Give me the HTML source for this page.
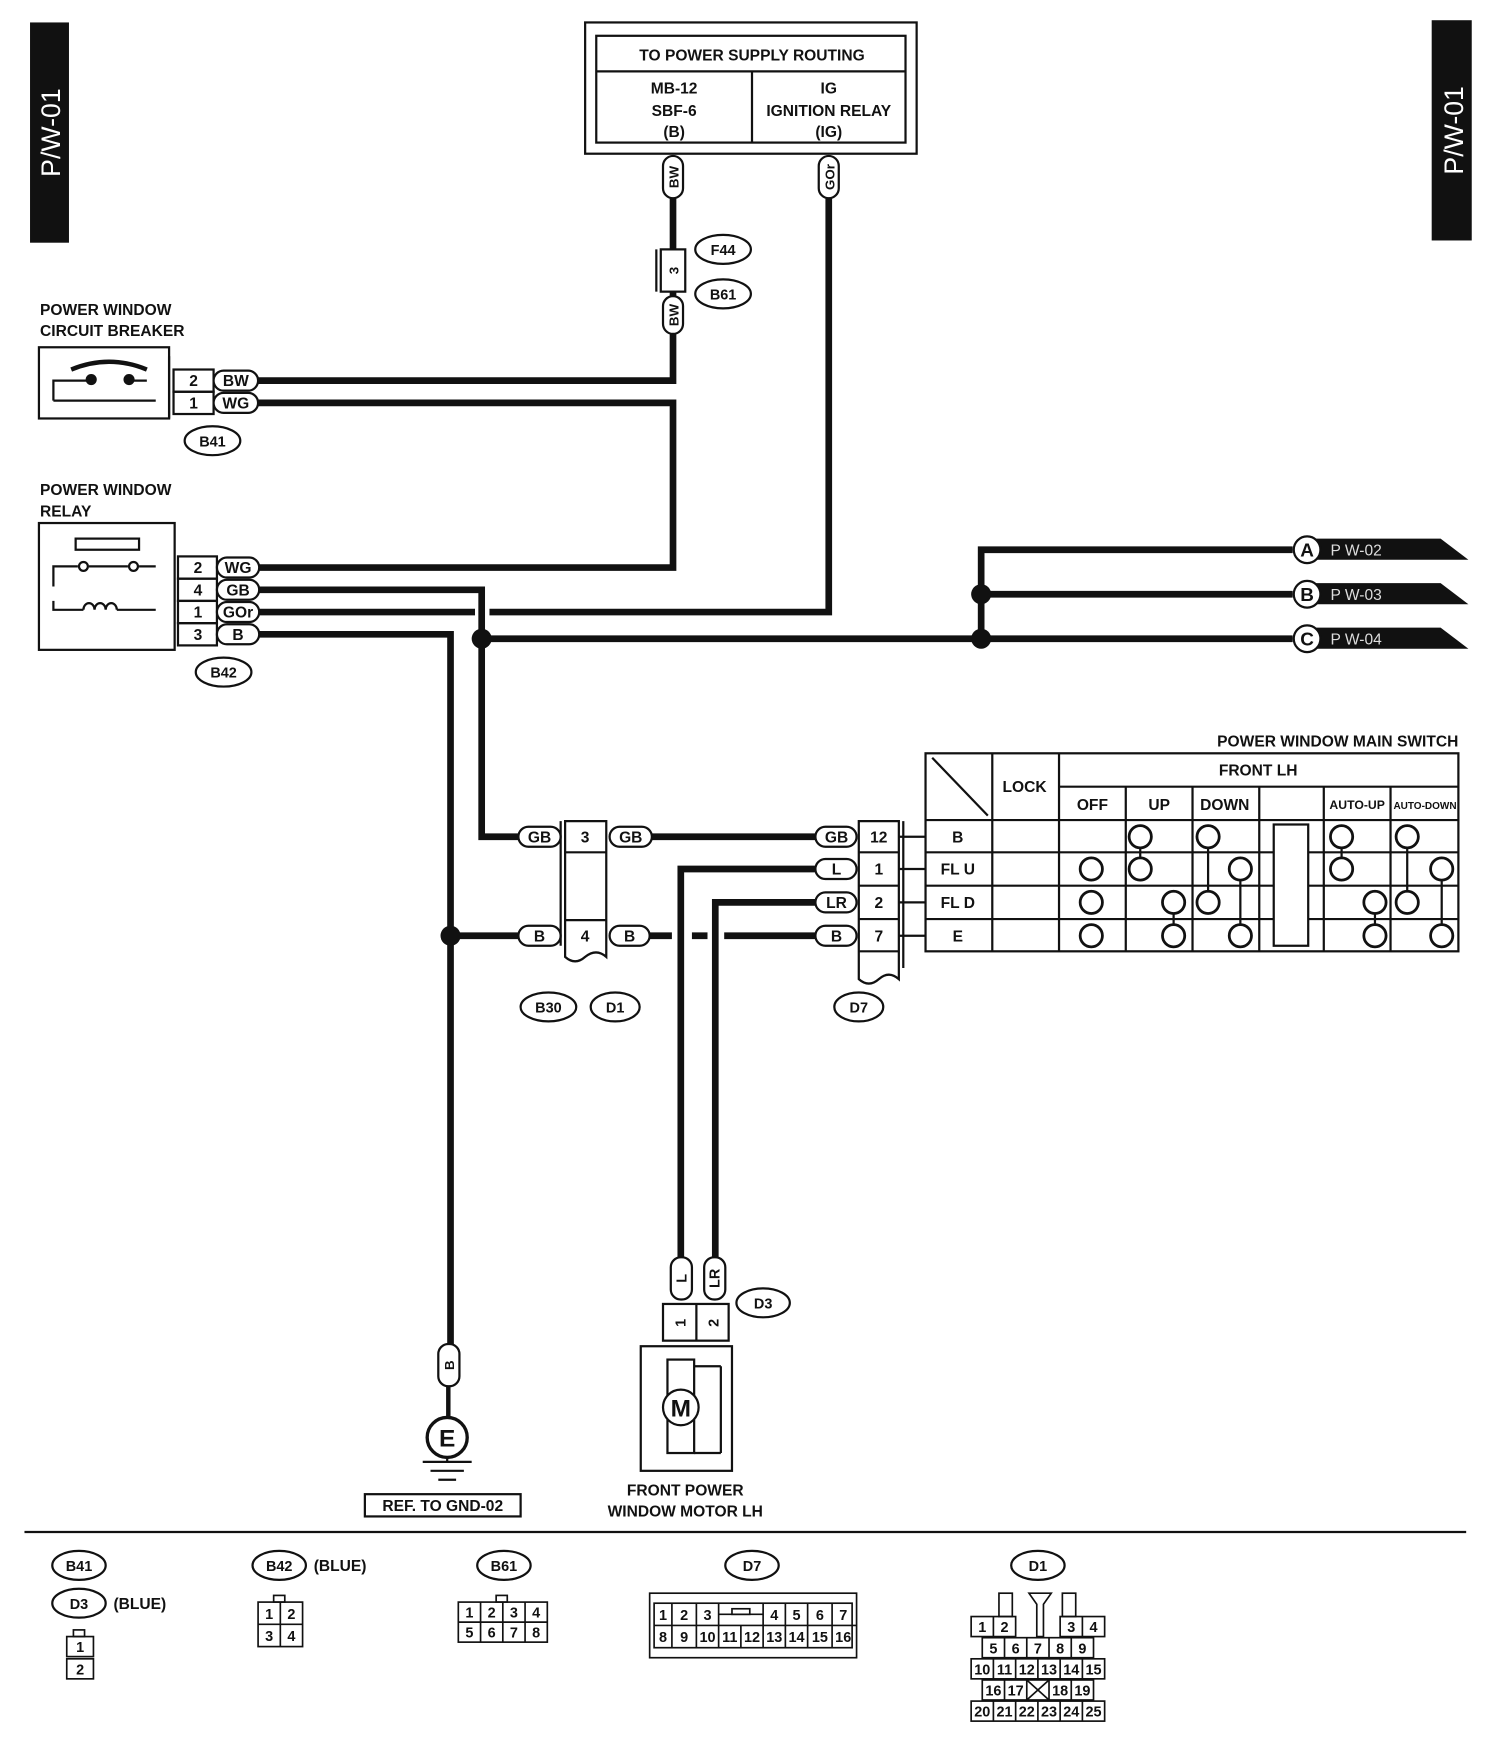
<!DOCTYPE html>
<html><head><meta charset="utf-8"><style>
html,body{margin:0;padding:0;background:#fff;}
svg{display:block;}
text{font-family:"Liberation Sans",Arial,sans-serif;font-weight:bold;fill:#111;}
</style></head><body>
<svg width="1504" height="1738" viewBox="0 0 1352 1562" xmlns="http://www.w3.org/2000/svg">
<rect width="1352" height="1562" fill="#fff"/>
<!-- side tabs -->
<rect x="27" y="20" width="35" height="198" fill="#111"/>
<text transform="translate(54,119) rotate(-90)" text-anchor="middle" font-size="24" style="fill:#fff;font-weight:normal">P/W-01</text>
<rect x="1287" y="18" width="36" height="198" fill="#111"/>
<text transform="translate(1315,117) rotate(-90)" text-anchor="middle" font-size="24" style="fill:#fff;font-weight:normal">P/W-01</text>

<!-- top box -->
<g fill="none" stroke="#111" stroke-width="2">
<rect x="526" y="20" width="298" height="118"/>
<rect x="536" y="32" width="278" height="96"/>
<line x1="536" y1="64" x2="814" y2="64"/>
<line x1="676" y1="64" x2="676" y2="128"/>
</g>
<g font-size="14" text-anchor="middle">
<text x="676" y="54">TO POWER SUPPLY ROUTING</text>
<text x="606" y="84">MB-12</text><text x="606" y="104">SBF-6</text><text x="606" y="123">(B)</text>
<text x="745" y="84">IG</text><text x="745" y="104">IGNITION RELAY</text><text x="745" y="123">(IG)</text>
</g>

<!-- wires -->
<g fill="none" stroke="#111" stroke-width="6" stroke-linejoin="miter">
<polyline points="605,178 605,224"/>
<polyline points="605,262 605,268"/>
<polyline points="605,300 605,342 232,342"/>
<polyline points="232,362 605,362 605,510 232,510"/>
<polyline points="745,178 745,550 440,550"/>
<polyline points="427,550 232,550"/>
<polyline points="232,530 433,530 433,752 466,752"/>
<polyline points="586,752 733,752"/>
<polyline points="232,570 405,570 405,1208"/>
<polyline points="433,574 1162,574"/>
<polyline points="882,574 882,494 1162,494"/>
<polyline points="882,534 1162,534"/>
<polyline points="405,841 466,841"/>
<polyline points="584,841 604,841"/>
<polyline points="622,841 636,841"/>
<polyline points="651,841 733,841"/>
<polyline points="733,781 612,781 612,1130"/>
<polyline points="733,811 643,811 643,1130"/>
</g>
<g stroke="#111" stroke-width="2">
<line x1="808" y1="752" x2="832" y2="752"/>
<line x1="808" y1="781" x2="832" y2="781"/>
<line x1="808" y1="811" x2="832" y2="811"/>
<line x1="808" y1="841" x2="832" y2="841"/>
</g>
<g fill="#111">
<circle cx="433" cy="574" r="9"/><circle cx="882" cy="574" r="9"/><circle cx="882" cy="534" r="9"/><circle cx="405" cy="841" r="9"/>
</g>

<!-- vertical pills top -->
<g fill="#fff" stroke="#111" stroke-width="2">
<rect x="596" y="140" width="18" height="38" rx="9"/>
<rect x="736" y="140" width="18" height="38" rx="9"/>
<rect x="596" y="266" width="18" height="34" rx="9"/>
<rect x="594" y="224" width="22" height="38"/>
<line x1="590" y1="224" x2="590" y2="262"/>
</g>
<g font-size="12" text-anchor="middle">
<text transform="translate(610,159) rotate(-90)">BW</text>
<text transform="translate(750,159) rotate(-90)">GOr</text>
<text transform="translate(610,283) rotate(-90)">BW</text>
<text transform="translate(610,243) rotate(-90)">3</text>
</g>
<g fill="#fff" stroke="#111" stroke-width="2">
<ellipse cx="650" cy="224" rx="25" ry="13"/>
<ellipse cx="650" cy="264" rx="25" ry="13"/>
</g>
<g font-size="13" text-anchor="middle"><text x="650" y="229">F44</text><text x="650" y="269">B61</text></g>

<!-- circuit breaker -->
<g font-size="14"><text x="36" y="283">POWER WINDOW</text><text x="36" y="302">CIRCUIT BREAKER</text>
<text x="36" y="445">POWER WINDOW</text><text x="36" y="464">RELAY</text></g>
<g fill="none" stroke="#111" stroke-width="2">
<rect x="35" y="312" width="117" height="64"/>
<polyline points="48,360 48,342 82,342"/>
<polyline points="116,342 132,342"/>
<path d="M64,332 Q98,318 132,332" stroke-width="4"/>
<line x1="48" y1="360" x2="140" y2="360"/>
<rect x="156" y="332" width="36" height="20"/><rect x="156" y="352" width="36" height="20"/>
<line x1="152" y1="320" x2="152" y2="376"/>
</g>
<circle cx="82" cy="341" r="5" fill="#111"/><circle cx="116" cy="341" r="5" fill="#111"/>
<g fill="#fff" stroke="#111" stroke-width="2">
<rect x="192" y="333" width="40" height="18" rx="9"/><rect x="192" y="353" width="40" height="18" rx="9"/>
<ellipse cx="191" cy="396" rx="25" ry="13"/>
</g>
<g font-size="14" text-anchor="middle">
<text x="174" y="347">2</text><text x="174" y="367">1</text>
<text x="212" y="347">BW</text><text x="212" y="367">WG</text>
<text x="191" y="401" font-size="13">B41</text>
</g>

<!-- relay -->
<g fill="none" stroke="#111" stroke-width="2">
<rect x="35" y="470" width="122" height="114"/>
<rect x="68" y="484" width="57" height="10"/>
<polyline points="70,509 48,509 48,527"/>
<line x1="80" y1="509" x2="115" y2="509"/>
<polyline points="125,509 140,509"/>
<circle cx="75" cy="509" r="4" fill="#fff"/><circle cx="120" cy="509" r="4" fill="#fff"/>
<polyline points="48,540 48,548 75,548"/>
<path d="M75,548 a5,6 0 1 1 10,0 a5,6 0 1 1 10,0 a5,6 0 1 1 10,0"/>
<polyline points="105,548 140,548"/>
<rect x="160" y="500" width="35" height="20"/><rect x="160" y="520" width="35" height="20"/>
<rect x="160" y="540" width="35" height="20"/><rect x="160" y="560" width="35" height="20"/>
</g>
<g fill="#fff" stroke="#111" stroke-width="2">
<rect x="195" y="501" width="38" height="18" rx="9"/><rect x="195" y="521" width="38" height="18" rx="9"/>
<rect x="195" y="541" width="38" height="18" rx="9"/><rect x="195" y="561" width="38" height="18" rx="9"/>
<ellipse cx="201" cy="604" rx="25" ry="13"/>
</g>
<g font-size="14" text-anchor="middle">
<text x="178" y="515">2</text><text x="178" y="535">4</text><text x="178" y="555">1</text><text x="178" y="575">3</text>
<text x="214" y="515">WG</text><text x="214" y="535">GB</text><text x="214" y="555">GOr</text><text x="214" y="575">B</text>
<text x="201" y="609" font-size="13">B42</text>
</g>

<!-- A B C -->
<g fill="#111">
<polygon points="1180,484 1295,484 1320,503 1180,503"/>
<polygon points="1180,524 1295,524 1320,543 1180,543"/>
<polygon points="1180,564 1295,564 1320,583 1180,583"/>
</g>
<g fill="#fff" stroke="#111" stroke-width="2">
<circle cx="1175" cy="494" r="12"/><circle cx="1175" cy="534" r="12"/><circle cx="1175" cy="574" r="12"/>
</g>
<g font-size="17" text-anchor="middle"><text x="1175" y="500">A</text><text x="1175" y="540">B</text><text x="1175" y="580">C</text></g>
<g font-size="14" style="fill:#ddd;font-weight:normal"><text x="1196" y="499" style="fill:#ddd;font-weight:normal">P W-02</text><text x="1196" y="539" style="fill:#ddd;font-weight:normal">P W-03</text><text x="1196" y="579" style="fill:#ddd;font-weight:normal">P W-04</text></g>

<!-- B30/D1 connector -->
<g fill="none" stroke="#111" stroke-width="2">
<path d="M508,738 H545 V860 Q536,852 526,860 Q517,868 508,860 Z" fill="#fff"/>
<line x1="508" y1="766" x2="545" y2="766"/><line x1="508" y1="827" x2="545" y2="827"/>
<line x1="504" y1="738" x2="504" y2="850"/>
<path d="M772,738 H808 V880 Q799,872 790,880 Q781,888 772,880 Z" fill="#fff"/>
<line x1="772" y1="766" x2="808" y2="766"/><line x1="772" y1="796" x2="808" y2="796"/>
<line x1="772" y1="826" x2="808" y2="826"/><line x1="772" y1="855" x2="808" y2="855"/>
<line x1="812" y1="738" x2="812" y2="870"/>
</g>
<g fill="#fff" stroke="#111" stroke-width="2">
<rect x="466" y="743" width="38" height="18" rx="9"/><rect x="548" y="743" width="38" height="18" rx="9"/>
<rect x="466" y="832" width="38" height="18" rx="9"/><rect x="548" y="832" width="36" height="18" rx="9"/>
<rect x="733" y="743" width="37" height="18" rx="9"/><rect x="733" y="772" width="37" height="18" rx="9"/>
<rect x="733" y="802" width="37" height="18" rx="9"/><rect x="733" y="832" width="37" height="18" rx="9"/>
<ellipse cx="493" cy="905" rx="25" ry="13"/><ellipse cx="553" cy="905" rx="22" ry="13"/><ellipse cx="772" cy="905" rx="22" ry="13"/>
</g>
<g font-size="14" text-anchor="middle">
<text x="485" y="757">GB</text><text x="526" y="757">3</text><text x="567" y="757">GB</text>
<text x="485" y="846">B</text><text x="526" y="846">4</text><text x="566" y="846">B</text>
<text x="752" y="757">GB</text><text x="752" y="786">L</text><text x="752" y="816">LR</text><text x="752" y="846">B</text>
<text x="790" y="757">12</text><text x="790" y="786">1</text><text x="790" y="816">2</text><text x="790" y="846">7</text>
<text x="493" y="910" font-size="13">B30</text><text x="553" y="910" font-size="13">D1</text><text x="772" y="910" font-size="13">D7</text>
</g>

<!-- switch table -->
<text x="1311" y="671" font-size="14" text-anchor="end">POWER WINDOW MAIN SWITCH</text>
<g fill="none" stroke="#111" stroke-width="2">
<rect x="832" y="677" width="479" height="178"/>
<line x1="892" y1="677" x2="892" y2="855"/>
<line x1="952" y1="677" x2="952" y2="855"/>
<line x1="952" y1="707" x2="1311" y2="707"/>
<line x1="832" y1="737" x2="1311" y2="737"/>
<line x1="832" y1="766" x2="1311" y2="766"/>
<line x1="832" y1="796" x2="1311" y2="796"/>
<line x1="832" y1="826" x2="1311" y2="826"/>
<line x1="1012" y1="707" x2="1012" y2="855"/>
<line x1="1072" y1="707" x2="1072" y2="855"/>
<line x1="1132" y1="707" x2="1132" y2="855"/>
<line x1="1190" y1="707" x2="1190" y2="855"/>
<line x1="1250" y1="707" x2="1250" y2="855"/>
<line x1="838" y1="681" x2="888" y2="733"/>
<rect x="1145" y="741" width="31" height="109" fill="#fff"/>
<line x1="1025" y1="752" x2="1025" y2="781"/><line x1="1055" y1="811" x2="1055" y2="841"/>
<line x1="1086" y1="752" x2="1086" y2="811"/><line x1="1115" y1="781" x2="1115" y2="841"/>
<line x1="1206" y1="752" x2="1206" y2="781"/><line x1="1236" y1="811" x2="1236" y2="841"/>
<line x1="1265" y1="752" x2="1265" y2="811"/><line x1="1296" y1="781" x2="1296" y2="841"/>
</g>
<g fill="#fff" stroke="#111" stroke-width="2.5">
<circle cx="981" cy="781" r="10"/><circle cx="981" cy="811" r="10"/><circle cx="981" cy="841" r="10"/>
<circle cx="1025" cy="752" r="10"/><circle cx="1025" cy="781" r="10"/><circle cx="1055" cy="811" r="10"/><circle cx="1055" cy="841" r="10"/>
<circle cx="1086" cy="752" r="10"/><circle cx="1115" cy="781" r="10"/><circle cx="1086" cy="811" r="10"/><circle cx="1115" cy="841" r="10"/>
<circle cx="1206" cy="752" r="10"/><circle cx="1206" cy="781" r="10"/><circle cx="1236" cy="811" r="10"/><circle cx="1236" cy="841" r="10"/>
<circle cx="1265" cy="752" r="10"/><circle cx="1296" cy="781" r="10"/><circle cx="1265" cy="811" r="10"/><circle cx="1296" cy="841" r="10"/>
</g>
<g font-size="14" text-anchor="middle">
<text x="921" y="712">LOCK</text><text x="1131" y="697">FRONT LH</text>
<text x="982" y="728">OFF</text><text x="1042" y="728">UP</text><text x="1101" y="728">DOWN</text>
<text x="1220" y="727" font-size="11">AUTO-UP</text><text x="1281" y="727" font-size="9">AUTO-DOWN</text>
<text x="861" y="757">B</text><text x="861" y="786">FL U</text><text x="861" y="816">FL D</text><text x="861" y="846">E</text>
</g>

<!-- motor -->
<g fill="#fff" stroke="#111" stroke-width="2">
<rect x="603" y="1130" width="19" height="38" rx="9"/><rect x="633" y="1130" width="19" height="38" rx="9"/>
<rect x="596" y="1172" width="59" height="33"/><line x1="626" y1="1172" x2="626" y2="1205"/>
<rect x="576" y="1210" width="82" height="112"/>
<rect x="600" y="1222" width="24" height="84"/>
<line x1="624" y1="1228" x2="648" y2="1228"/><line x1="648" y1="1228" x2="648" y2="1306"/><line x1="624" y1="1306" x2="648" y2="1306"/>
<circle cx="612" cy="1265" r="16"/>
<ellipse cx="686" cy="1171" rx="24" ry="13"/>
</g>
<g font-size="13" text-anchor="middle">
<text transform="translate(617,1149) rotate(-90)">L</text>
<text transform="translate(647,1149) rotate(-90)">LR</text>
<text transform="translate(616,1189) rotate(-90)">1</text>
<text transform="translate(646,1189) rotate(-90)">2</text>
<text x="612" y="1273" font-size="22">M</text>
<text x="686" y="1176">D3</text>
</g>
<g font-size="14" text-anchor="middle"><text x="616" y="1344">FRONT POWER</text><text x="616" y="1363">WINDOW MOTOR LH</text></g>

<!-- ground -->
<g fill="#fff" stroke="#111" stroke-width="2">
<rect x="394" y="1208" width="19" height="38" rx="9"/>
<line x1="403" y1="1246" x2="403" y2="1274" stroke-width="4"/>
<circle cx="402" cy="1292" r="18" stroke-width="3"/>
<line x1="380" y1="1314" x2="424" y2="1314"/><line x1="387" y1="1322" x2="417" y2="1322"/><line x1="394" y1="1330" x2="410" y2="1330"/>
<line x1="402" y1="1310" x2="402" y2="1314"/>
<rect x="328" y="1343" width="140" height="20"/>
</g>
<text transform="translate(408,1227) rotate(-90)" font-size="12" text-anchor="middle">B</text>
<text x="402" y="1300" font-size="22" text-anchor="middle">E</text>
<text x="398" y="1358" font-size="14" text-anchor="middle">REF. TO GND-02</text>

<!-- divider -->
<line x1="22" y1="1377" x2="1318" y2="1377" stroke="#111" stroke-width="2"/>

<!-- bottom connectors -->
<g fill="#fff" stroke="#111" stroke-width="2">
<ellipse cx="71" cy="1407" rx="24" ry="13"/><ellipse cx="71" cy="1441" rx="24" ry="13"/>
<ellipse cx="251" cy="1407" rx="24" ry="13"/><ellipse cx="453" cy="1407" rx="24" ry="13"/>
<ellipse cx="676" cy="1407" rx="24" ry="13"/><ellipse cx="933" cy="1407" rx="24" ry="13"/>
</g>
<g font-size="13" text-anchor="middle">
<text x="71" y="1412">B41</text><text x="71" y="1446">D3</text>
<text x="251" y="1412">B42</text><text x="453" y="1412">B61</text>
<text x="676" y="1412">D7</text><text x="933" y="1412">D1</text>
</g>
<g font-size="14"><text x="102" y="1446">(BLUE)</text><text x="282" y="1412">(BLUE)</text></g>

<g fill="none" stroke="#111" stroke-width="1.5">
<!-- D3 small -->
<rect x="66" y="1465" width="10" height="6"/>
<rect x="60" y="1471" width="24" height="18"/><rect x="60" y="1491" width="24" height="18"/>
<!-- B42 -->
<rect x="246" y="1434" width="10" height="6"/>
<rect x="232" y="1440" width="40" height="40"/><line x1="232" y1="1460" x2="272" y2="1460"/><line x1="252" y1="1440" x2="252" y2="1480"/>
<!-- B61 -->
<rect x="446" y="1434" width="10" height="6"/>
<rect x="412" y="1440" width="80" height="36"/><line x1="412" y1="1458" x2="492" y2="1458"/>
<line x1="432" y1="1440" x2="432" y2="1476"/><line x1="452" y1="1440" x2="452" y2="1476"/><line x1="472" y1="1440" x2="472" y2="1476"/>
<!-- D7 -->
<rect x="584" y="1432" width="186" height="58"/>
<line x1="588" y1="1461" x2="770" y2="1461"/>
<line x1="646" y1="1451" x2="686" y2="1451"/><rect x="658" y="1446" width="16" height="5"/>
<line x1="604" y1="1441" x2="604" y2="1481"/><line x1="626" y1="1441" x2="626" y2="1481"/><line x1="646" y1="1441" x2="646" y2="1481"/>
<line x1="666" y1="1461" x2="666" y2="1481"/><line x1="686" y1="1441" x2="686" y2="1481"/>
<line x1="706" y1="1441" x2="706" y2="1481"/><line x1="726" y1="1441" x2="726" y2="1481"/>
<line x1="748" y1="1441" x2="748" y2="1481"/>
<rect x="588" y="1441" width="178" height="40"/>
<!-- D1 -->
<rect x="873" y="1453" width="40" height="18"/><line x1="893" y1="1453" x2="893" y2="1471"/>
<rect x="953" y="1453" width="40" height="18"/><line x1="973" y1="1453" x2="973" y2="1471"/>
<rect x="898" y="1432" width="12" height="21"/><rect x="955" y="1432" width="12" height="21"/>
<path d="M925,1432 H945 L938,1442 V1471 H932 V1442 Z"/>
<rect x="883" y="1472" width="100" height="18"/>
<line x1="903" y1="1472" x2="903" y2="1490"/><line x1="923" y1="1472" x2="923" y2="1490"/><line x1="943" y1="1472" x2="943" y2="1490"/><line x1="963" y1="1472" x2="963" y2="1490"/>
<rect x="873" y="1491" width="120" height="18"/>
<line x1="893" y1="1491" x2="893" y2="1509"/><line x1="913" y1="1491" x2="913" y2="1509"/><line x1="933" y1="1491" x2="933" y2="1509"/><line x1="953" y1="1491" x2="953" y2="1509"/><line x1="973" y1="1491" x2="973" y2="1509"/>
<rect x="883" y="1510" width="100" height="18"/>
<line x1="903" y1="1510" x2="903" y2="1528"/><line x1="923" y1="1510" x2="923" y2="1528"/><line x1="943" y1="1510" x2="943" y2="1528"/><line x1="963" y1="1510" x2="963" y2="1528"/>
<line x1="923" y1="1510" x2="943" y2="1528"/><line x1="943" y1="1510" x2="923" y2="1528"/>
<rect x="873" y="1529" width="120" height="18"/>
<line x1="893" y1="1529" x2="893" y2="1547"/><line x1="913" y1="1529" x2="913" y2="1547"/><line x1="933" y1="1529" x2="933" y2="1547"/><line x1="953" y1="1529" x2="953" y2="1547"/><line x1="973" y1="1529" x2="973" y2="1547"/>
</g>
<g font-size="13" text-anchor="middle" style="font-weight:normal">
<text x="72" y="1485">1</text><text x="72" y="1505">2</text>
<text x="242" y="1455">1</text><text x="262" y="1455">2</text><text x="242" y="1475">3</text><text x="262" y="1475">4</text>
<text x="422" y="1454">1</text><text x="442" y="1454">2</text><text x="462" y="1454">3</text><text x="482" y="1454">4</text>
<text x="422" y="1472">5</text><text x="442" y="1472">6</text><text x="462" y="1472">7</text><text x="482" y="1472">8</text>
<text x="596" y="1456">1</text><text x="615" y="1456">2</text><text x="636" y="1456">3</text><text x="696" y="1456">4</text><text x="716" y="1456">5</text><text x="737" y="1456">6</text><text x="758" y="1456">7</text>
<text x="596" y="1476">8</text><text x="615" y="1476">9</text><text x="636" y="1476">10</text><text x="656" y="1476">11</text><text x="676" y="1476">12</text><text x="696" y="1476">13</text><text x="716" y="1476">14</text><text x="737" y="1476">15</text><text x="758" y="1476">16</text>
<text x="883" y="1467">1</text><text x="903" y="1467">2</text><text x="963" y="1467">3</text><text x="983" y="1467">4</text>
<text x="893" y="1486">5</text><text x="913" y="1486">6</text><text x="933" y="1486">7</text><text x="953" y="1486">8</text><text x="973" y="1486">9</text>
<text x="883" y="1505">10</text><text x="903" y="1505">11</text><text x="923" y="1505">12</text><text x="943" y="1505">13</text><text x="963" y="1505">14</text><text x="983" y="1505">15</text>
<text x="893" y="1524">16</text><text x="913" y="1524">17</text><text x="953" y="1524">18</text><text x="973" y="1524">19</text>
<text x="883" y="1543">20</text><text x="903" y="1543">21</text><text x="923" y="1543">22</text><text x="943" y="1543">23</text><text x="963" y="1543">24</text><text x="983" y="1543">25</text>
</g>
</svg>
</body></html>
